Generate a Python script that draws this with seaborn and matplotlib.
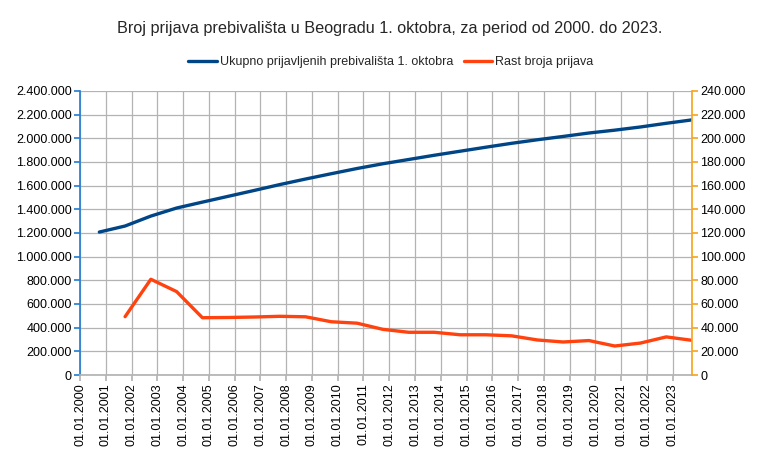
import matplotlib
matplotlib.use("Agg")
import matplotlib.pyplot as plt
import matplotlib.dates as mdates
from matplotlib.ticker import FuncFormatter, MultipleLocator
import seaborn as sns
import pandas as pd
import numpy as np

years = list(range(2000, 2024))
ukupno = [1208000, 1259000, 1343000, 1411000, 1461000, 1510000, 1559000, 1609000,
          1656000, 1701000, 1745000, 1785000, 1821000, 1857000, 1891000, 1925000,
          1958000, 1988000, 2016000, 2045000, 2069000, 2096000, 2127000, 2156000]
rast = [np.nan, 49300, 80900, 70500, 48400, 48600, 49000, 49600,
        49200, 45000, 43800, 38600, 36100, 36100, 34000, 34000,
        33100, 29600, 27900, 29100, 24500, 27000, 32200, 29300]
label_total = "Ukupno prijavljenih prebivališta 1. oktobra"
label_rast = "Rast broja prijava"
title = "Broj prijava prebivališta u Beogradu 1. oktobra, za period od 2000. do 2023."

df = pd.DataFrame({
    "datum": pd.to_datetime([f"{y}-10-01" for y in years]),
    "ukupno": ukupno,
    "rast": rast,
})

sns.set_theme(style="white")
plt.rcParams["font.family"] = ["Liberation Sans", "DejaVu Sans"]

fig = plt.figure(figsize=(7.62, 4.67), dpi=100)
ax = fig.add_axes([80 / 762, 1 - 375 / 467, (692 - 80) / 762, (375 - 91) / 467])
ax2 = ax.twinx()

blue = "#004586"
orange = "#ff420e"
sns.lineplot(data=df, x="datum", y="ukupno", ax=ax, color=blue, linewidth=2.4,
             label=label_total, legend=False)
sns.lineplot(data=df.dropna(), x="datum", y="rast", ax=ax2, color=orange, linewidth=2.4,
             label=label_rast, legend=False)

fmt = FuncFormatter(lambda v, p: f"{int(round(v)):,}".replace(",", "."))
ax.set_ylim(0, 2400000)
ax.yaxis.set_major_locator(MultipleLocator(200000))
ax.yaxis.set_major_formatter(fmt)
ax2.set_ylim(0, 240000)
ax2.yaxis.set_major_locator(MultipleLocator(20000))
ax2.yaxis.set_major_formatter(fmt)

ax.set_xlim(pd.Timestamp("2000-01-01"), pd.Timestamp("2023-10-01"))
ax.xaxis.set_major_locator(mdates.YearLocator(1, month=1, day=1))
ax.xaxis.set_major_formatter(mdates.DateFormatter("%d.%m.%Y"))
plt.setp(ax.get_xticklabels(), rotation=90)

ax.set_xlabel("")
ax.set_ylabel("")
ax2.set_ylabel("")

ax.grid(True, color="#b3b3b3", linewidth=0.9)
ax2.grid(False)

for a in (ax, ax2):
    for s in a.spines.values():
        s.set_visible(False)
ax.spines["left"].set_visible(True)
ax.spines["left"].set_color("#2a7fd4")
ax.spines["bottom"].set_visible(True)
ax.spines["bottom"].set_color("#b3b3b3")
ax2.spines["right"].set_visible(True)
ax2.spines["right"].set_color("#f5a623")

ax.tick_params(axis="y", which="major", left=True, length=4, color="#2a7fd4",
               labelsize=9, labelcolor="#000000", pad=2)
ax.tick_params(axis="x", which="major", bottom=True, length=4, color="#b3b3b3",
               labelsize=9, labelcolor="#000000", pad=2)
ax2.tick_params(axis="y", which="major", right=True, length=4, color="#f5a623",
                labelsize=9, labelcolor="#000000", pad=2)

fig.text(390 / 762, 1 - 28 / 467, title, ha="center", va="center", fontsize=11.7)

h1, l1 = ax.get_legend_handles_labels()
h2, l2 = ax2.get_legend_handles_labels()
fig.legend(h1 + h2, l1 + l2, loc="center", bbox_to_anchor=(391 / 762, 1 - 62 / 467),
           ncol=2, frameon=False, fontsize=9, handlelength=2.3, columnspacing=0.8,
           handletextpad=0.25)

fig.savefig("out.png", dpi=100)
